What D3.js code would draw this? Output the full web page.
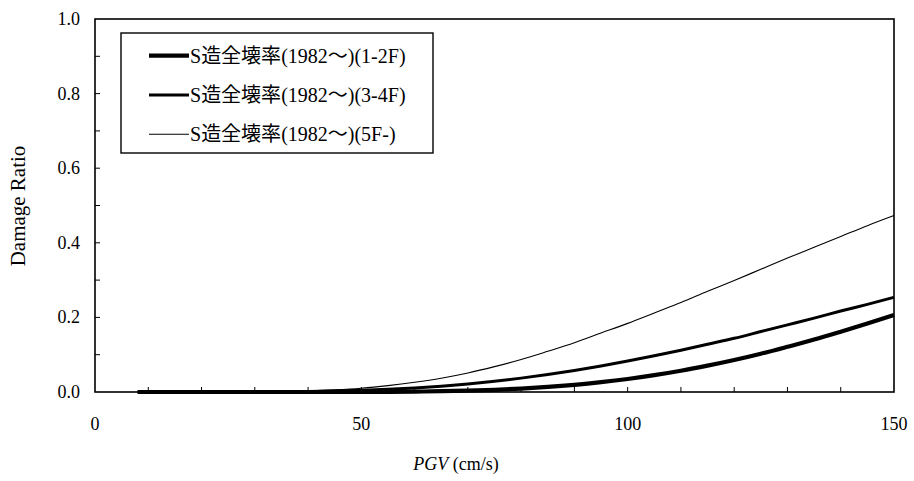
<!DOCTYPE html>
<html><head><meta charset="utf-8">
<script src="https://cdn.jsdelivr.net/npm/d3@7"></script>
<style>body{margin:0;background:#fff}svg{display:block}</style>
</head><body><svg id="c" width="914" height="481"></svg>
<script>
const pgv = [8,10,15,20,25,30,35,40,45,50,55,60,65,70,75,80,85,90,95,100,105,110,115,120,125,130,135,140,145,150];
const ratio12 = [0,0,0,0,0,0,0,0,0,0.0002,0.0005,0.0011,0.0021,0.0036,0.0059,0.0091,0.0135,0.0192,0.0263,0.0348,0.0451,0.0569,0.0706,0.0857,0.1026,0.1212,0.1405,0.1616,0.1835,0.2064];
const ratio34 = [0,0,0,0,0,0,0,0.0013,0.0025,0.0044,0.0071,0.0108,0.0156,0.0215,0.0287,0.0372,0.047,0.0579,0.0698,0.0829,0.0971,0.112,0.128,0.144,0.162,0.180,0.198,0.217,0.235,0.254];
const ratio5 = [0,0,0,0,0,0.0004,0.0012,0.0027,0.0056,0.010,0.017,0.026,0.037,0.051,0.068,0.087,0.109,0.132,0.158,0.184,0.212,0.240,0.270,0.299,0.329,0.359,0.388,0.417,0.446,0.473];
const seriesNames = ["S造全壊率(1982～)(1-2F)","S造全壊率(1982～)(3-4F)","S造全壊率(1982～)(5F-)"];
const seriesWidths = [4.2, 3, 1.1];
const xTickLabels = [0,50,100,150];
const yTickLabels = [0.0,0.2,0.4,0.6,0.8,1.0];

const FONT = '"Liberation Serif", "Noto Sans CJK JP", serif';
const LATIN = '"Liberation Serif", serif';
const CJK = '"Noto Sans CJK JP", sans-serif';
const svg = d3.select("#c");
const L=95, R=894, T=19, B=392;
const x = d3.scaleLinear().domain([0,150]).range([L,R]);
const y = d3.scaleLinear().domain([0,1]).range([B,T]);

const g = svg.append("g");
g.selectAll(".xt").data(d3.range(10,150,10)).join("line")
  .attr("x1",d=>x(d)).attr("x2",d=>x(d)).attr("y1",B).attr("y2",B-5)
  .attr("stroke","#000").attr("stroke-width",1);
g.selectAll(".yt").data(d3.range(1,10).map(d=>d/10)).join("line")
  .attr("x1",L).attr("x2",L+5).attr("y1",d=>y(d)).attr("y2",d=>y(d))
  .attr("stroke","#000").attr("stroke-width",1);

const all = [ratio12, ratio34, ratio5];
const line = d3.line().x(d=>x(d[0])).y(d=>y(d[1])).curve(d3.curveMonotoneX);
all.forEach((vals,i)=>{
  svg.append("path").datum(pgv.map((p,j)=>[p,vals[j]]))
    .attr("d",line).attr("fill","none").attr("stroke","#000")
    .attr("stroke-width",seriesWidths[i]).attr("stroke-linejoin","round");
});

svg.append("rect").attr("x",L).attr("y",T).attr("width",R-L).attr("height",B-T)
  .attr("fill","none").attr("stroke","#000").attr("stroke-width",1.6);

svg.selectAll(".xl").data(xTickLabels).join("text")
  .attr("x",d=>x(d)).attr("y",430).attr("text-anchor","middle")
  .style("font-family",LATIN).style("font-size","18px").text(d=>d);
svg.selectAll(".yl").data(yTickLabels).join("text")
  .attr("x",80).attr("y",d=>y(d)+6).attr("text-anchor","end")
  .style("font-family",LATIN).style("font-size","18px").text(d=>d.toFixed(1));

const xt = svg.append("text").attr("x",456).attr("y",470).attr("text-anchor","middle")
  .style("font-family",LATIN).style("font-size","18px");
xt.append("tspan").style("font-style","italic").text("PGV");
xt.append("tspan").text(" (cm/s)");
svg.append("text").attr("transform","translate(25,206) rotate(-90)").attr("text-anchor","middle")
  .style("font-family",LATIN).style("font-size","21px").text("Damage Ratio");

svg.append("rect").attr("x",121).attr("y",33).attr("width",312).attr("height",120)
  .attr("fill","#fff").attr("stroke","#000").attr("stroke-width",1.4);
const rowsY = [55.7, 95, 134.3];
seriesNames.forEach((n,i)=>{
  svg.append("line").attr("x1",149).attr("x2",189).attr("y1",rowsY[i]).attr("y2",rowsY[i])
    .attr("stroke","#000").attr("stroke-width",seriesWidths[i]);
  const t = svg.append("text").attr("x",190).attr("y",rowsY[i]+7).style("font-family",FONT)
    .style("font-size","20px");
  // split into runs: Latin vs CJK characters
  const parts = n.match(/[\u3000-\u9fff\uff00-\uffef]+|[^\u3000-\u9fff\uff00-\uffef]+/g);
  parts.forEach(p=>{
    const isCJK = /[\u3000-\u9fff\uff00-\uffef]/.test(p);
    t.append("tspan").style("font-family", isCJK ? CJK : LATIN).text(p);
  });
});
</script></body></html>
